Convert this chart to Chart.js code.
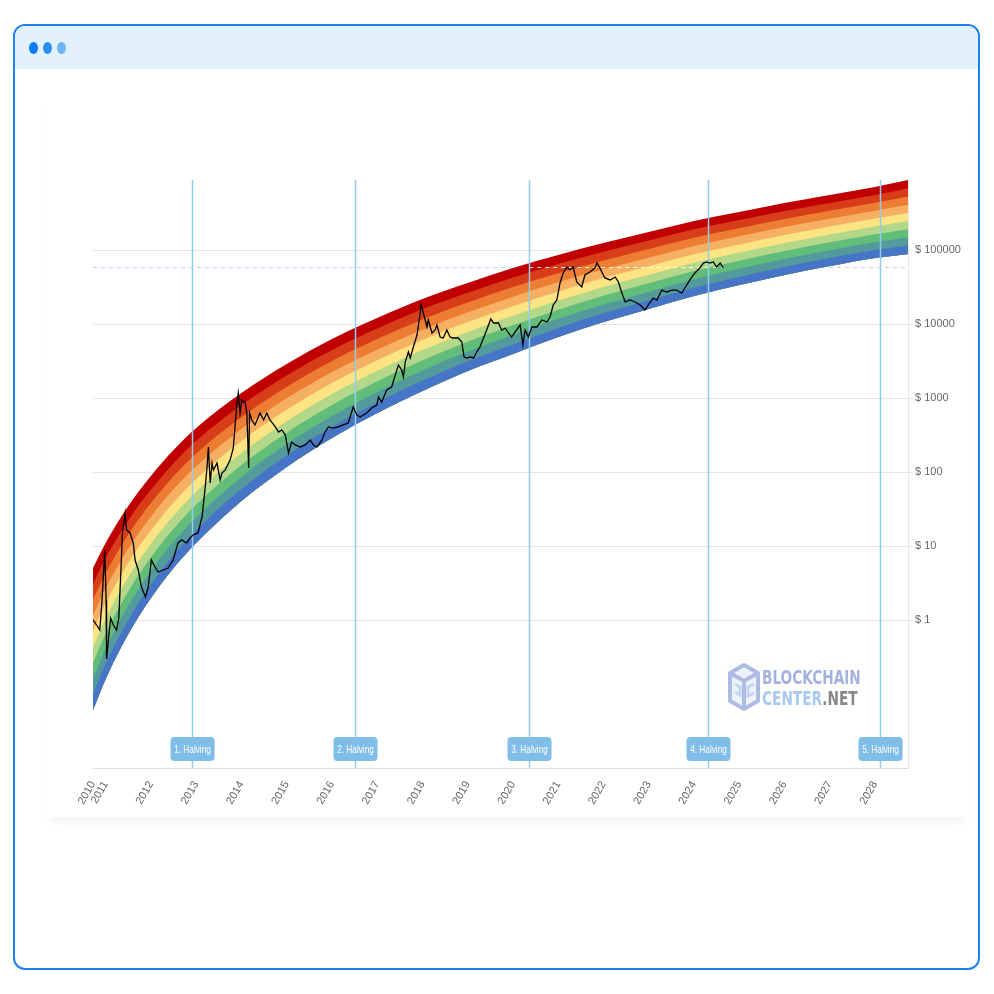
<!DOCTYPE html>
<html lang="en">
<head>
  <meta charset="UTF-8" />
  <title>Bitcoin Rainbow Price Chart</title>
  <script src="https://cdn.jsdelivr.net/npm/chart.js"></script>
  <style>
    html, body { margin: 0; padding: 0; background: #fff; }
    body {
      width: 994px; height: 994px; position: relative; overflow: hidden;
      font-family: 'Liberation Sans', Arial, sans-serif;
    }
    .frame {
      position: absolute; left: 13px; top: 24px;
      width: 963px; height: 942px;
      border: 2px solid #1a82f2; border-radius: 12px;
      overflow: hidden; background: #fff;
    }
    .bar { height: 43px; background: #e3f1fd; position: relative; }
    .dot { position: absolute; top: 16px; width: 9px; height: 12px; border-radius: 50%; }
    .card {
      position: absolute; left: 45px; top: 80px; width: 925px; height: 737px;
      background: #fff; box-shadow: 0 9px 9px -5px rgba(0, 0, 0, 0.05);
    }
    .chart-box { position: absolute; left: 73px; top: 160px; width: 890px; height: 650px; }
    .wm { position: absolute; left: 727px; top: 662px; }
    .wm svg { position: absolute; left: 0; top: 0; }
    .wm-text {
      position: absolute; left: 35px; top: 5px; white-space: nowrap;
      font-family: 'Liberation Sans Narrow', 'DejaVu Sans Condensed', sans-serif;
      font-weight: bold; font-size: 20px; line-height: 21px;
      transform: scaleX(0.76); transform-origin: 0 0;
    }
    .l1 { color: #a3b3de; }
    .l2 { color: #a9c9ef; }
    .l2 .net { color: #888; }
  </style>
</head>
<body>
  <div class="frame">
    <div class="bar">
      <div class="dot" style="left:14px;background:#0a7cf7"></div>
      <div class="dot" style="left:28px;background:#2a8ef7"></div>
      <div class="dot" style="left:42px;background:#6db2f5"></div>
    </div>
  </div>
  <div class="card"></div>
  <div class="chart-box"><canvas id="rainbowChart"></canvas></div>
  <div class="wm">
    <svg width="34" height="50" viewBox="0 0 34 50">
      <polygon points="17,3 31,11 31,39 17,47 3,39 3,11" fill="#eef2fa" stroke="#aebbe2" stroke-width="4" stroke-linejoin="round"/>
      <polyline points="3,11 17,19 31,11" fill="none" stroke="#aebbe2" stroke-width="4"/>
      <line x1="17" y1="19" x2="17" y2="47" stroke="#aebbe2" stroke-width="4"/>
      <polyline points="8,22 13,25 13,33 8,30" fill="none" stroke="#c3d5f1" stroke-width="3"/>
      <polyline points="27,22 21,25 21,34 27,31" fill="none" stroke="#c3d5f1" stroke-width="3"/>
    </svg>
    <div class="wm-text">
      <div class="l1">BLOCKCHAIN</div>
      <div class="l2"><span>CENTER</span><span class="net">.NET</span></div>
    </div>
  </div>

  <script>
    // axis range (decimal years) and ticks
    const xMin = 2010.72;
    const xMax = 2028.73;
    const xTickValues = [2010.72, 2011, 2012, 2013, 2014, 2015, 2016, 2017, 2018, 2019,
      2020, 2021, 2022, 2023, 2024, 2025, 2026, 2027, 2028];
    const xTickLabels = ['2010', '2011', '2012', '2013', '2014', '2015', '2016', '2017', '2018', '2019',
      '2020', '2021', '2022', '2023', '2024', '2025', '2026', '2027', '2028'];
    const yMin = 0.01;
    const yMax = 883000;
    const yTickValues = [1, 10, 100, 1000, 10000, 100000];

    // rainbow: lower and upper edge of the whole band
    const bandYears = [2010.72, 2011, 2011.5, 2012, 2012.5, 2013, 2014, 2015, 2016, 2017, 2018,
      2019, 2020, 2021, 2022, 2023, 2024, 2025, 2026, 2027, 2028, 2028.73];
    const rainbowBottom = [0.0608, 0.16, 0.647, 1.98, 5.04, 11.0, 40.6, 117, 288, 627, 1243,
      2317, 3932, 6672, 10640, 15950, 23900, 33650, 45940, 60780, 77990, 88300];
    const rainbowTop = [5.04, 11.0, 34.7, 88.3, 198, 393, 1168, 2880, 6270, 12050, 21770,
      35820, 57120, 85600, 124300, 175100, 246600, 326200, 431600, 553500, 710200, 883000];
    const bandColors = ['#4674c6', '#539a9d', '#62bd7a', '#b4d88a', '#fde482',
      '#f6b064', '#ed7d33', '#d73d19', '#c00000'];

    // BTC price
    const priceDates = [2010.72, 2010.80, 2010.87, 2010.92, 2010.98, 2011.01, 2011.02, 2011.06, 2011.11, 2011.17,
      2011.24, 2011.29, 2011.34, 2011.37, 2011.43, 2011.46, 2011.54, 2011.61, 2011.65, 2011.72,
      2011.79, 2011.88, 2011.94, 2012.01, 2012.09, 2012.16, 2012.27, 2012.38, 2012.49, 2012.60,
      2012.68, 2012.79, 2012.86, 2012.93, 2013.04, 2013.13, 2013.20, 2013.24, 2013.27, 2013.31,
      2013.35, 2013.38, 2013.46, 2013.53, 2013.57, 2013.64, 2013.75, 2013.82, 2013.90, 2013.93,
      2013.97, 2014.01, 2014.08, 2014.12, 2014.16, 2014.18, 2014.23, 2014.30, 2014.41, 2014.49,
      2014.56, 2014.63, 2014.75, 2014.82, 2014.89, 2014.97, 2015.04, 2015.11, 2015.19, 2015.30,
      2015.41, 2015.52, 2015.59, 2015.67, 2015.78, 2015.85, 2015.92, 2016.03, 2016.14, 2016.25,
      2016.36, 2016.47, 2016.55, 2016.62, 2016.77, 2016.88, 2016.99, 2017.03, 2017.10, 2017.21,
      2017.32, 2017.40, 2017.47, 2017.54, 2017.58, 2017.62, 2017.69, 2017.73, 2017.80, 2017.88,
      2017.95, 2017.97, 2018.02, 2018.10, 2018.13, 2018.21, 2018.28, 2018.32, 2018.39, 2018.46,
      2018.54, 2018.61, 2018.68, 2018.79, 2018.87, 2018.92, 2018.98, 2019.05, 2019.13, 2019.20,
      2019.27, 2019.35, 2019.42, 2019.51, 2019.57, 2019.68, 2019.75, 2019.83, 2019.90, 2019.97,
      2020.05, 2020.16, 2020.22, 2020.27, 2020.34, 2020.42, 2020.53, 2020.64, 2020.75, 2020.82,
      2020.89, 2020.97, 2021.04, 2021.11, 2021.19, 2021.26, 2021.33, 2021.41, 2021.52, 2021.59,
      2021.70, 2021.81, 2021.86, 2021.92, 2022.03, 2022.15, 2022.26, 2022.33, 2022.40, 2022.48,
      2022.59, 2022.70, 2022.81, 2022.92, 2022.99, 2023.10, 2023.18, 2023.29, 2023.40, 2023.51,
      2023.62, 2023.73, 2023.80, 2023.91, 2024.02, 2024.13, 2024.21, 2024.28, 2024.35, 2024.43,
      2024.50, 2024.58, 2024.65];
    const priceValues = [1.0, 0.856, 0.732, 1.86, 8.83, 1.86, 0.297, 0.537, 1.06, 0.856,
      0.732, 1.06, 5.2, 15.0, 27.9, 16.5, 15.0, 11.0, 6.47, 4.74,
      2.79, 2.05, 2.79, 6.47, 5.2, 4.45, 4.74, 5.04, 6.47, 11.0,
      12.1, 11.0, 12.8, 14.1, 15.0, 24.7, 62.7, 117, 218, 71,
      132, 106, 132, 78, 96.9, 106, 145, 211, 856, 1169,
      627, 940, 883, 627, 113, 627, 504, 432, 627, 504,
      627, 504, 406, 347, 370, 316, 181, 254, 232, 218,
      232, 271, 232, 218, 271, 347, 406, 393, 406, 432,
      459, 756, 589, 554, 627, 733, 804, 1032, 883, 1283,
      1409, 2047, 2792, 2390, 1923, 3065, 4188, 3472, 4890, 7100,
      14090, 18070, 14090, 9110, 11330, 7560, 8300, 9690, 6670, 6470,
      8300, 6670, 6470, 6470, 5710, 3580, 3472, 3580, 3472, 4188,
      4890, 6470, 8300, 11690, 10320, 10320, 8300, 8830, 7560, 6670,
      7800, 9690, 5200, 8300, 6670, 9110, 9110, 11330, 10640, 12440,
      18070, 21100, 35820, 48900, 58900, 53700, 58900, 36980, 31620, 45940,
      50470, 57120, 66700, 57120, 41870, 39340, 43150, 36980, 27050, 19830,
      21100, 19830, 18070, 15460, 18070, 22450, 21100, 28780, 27050, 28780,
      28780, 26240, 30640, 39340, 48900, 57120, 66700, 68870, 66700, 68870,
      58900, 66700, 57120];
    const currentPrice = 59400;

    const halvingDates = [2012.91, 2016.52, 2020.36, 2024.30, 2028.12];
    const halvingLabels = ['1. Halving', '2. Halving', '3. Halving', '4. Halving', '5. Halving'];

    Chart.defaults.font.family = "'Liberation Sans', Arial, sans-serif";

    // band edges: the band is split evenly on the log scale
    const bandEdges = [];
    for (let k = 0; k <= bandColors.length; k++) {
      const f = k / bandColors.length;
      bandEdges.push(bandYears.map((yr, i) => ({
        x: yr,
        y: Math.pow(10, Math.log10(rainbowBottom[i]) * (1 - f) + Math.log10(rainbowTop[i]) * f)
      })));
    }

    const datasets = [{
      label: 'BTC',
      data: priceDates.map((d, i) => ({ x: d, y: priceValues[i] })),
      borderColor: '#000',
      borderWidth: 1.3,
      pointRadius: 0,
      fill: false
    }];
    bandEdges.forEach((edge, k) => {
      datasets.push({
        label: 'edge' + k,
        data: edge,
        borderWidth: 0,
        borderColor: 'rgba(0,0,0,0)',
        pointRadius: 0,
        cubicInterpolationMode: 'monotone',
        backgroundColor: k === 0 ? 'rgba(0,0,0,0)' : bandColors[k - 1],
        fill: k === 0 ? false : 1
      });
    });

    const overlays = {
      id: 'overlays',
      beforeDatasetsDraw(chart) {
        const { ctx, chartArea: a, scales: { y } } = chart;
        const py = Math.round(y.getPixelForValue(currentPrice)) + 0.5;
        ctx.save();
        ctx.setLineDash([4, 4]);
        ctx.strokeStyle = '#bcd3f5';
        ctx.lineWidth = 1;
        ctx.beginPath();
        ctx.moveTo(a.left, py);
        ctx.lineTo(a.right, py);
        ctx.stroke();
        ctx.restore();
      },
      afterDatasetDraw(chart, args) {
        if (args.index !== 1) return;
        const { ctx, chartArea: a, scales: { x, y } } = chart;
        ctx.save();
        // dashed price level over the rainbow
        const py = Math.round(y.getPixelForValue(currentPrice)) + 0.5;
        ctx.setLineDash([4, 4]);
        ctx.strokeStyle = 'rgba(255,255,255,0.9)';
        ctx.lineWidth = 1;
        ctx.beginPath();
        ctx.moveTo(x.getPixelForValue(halvingDates[2]), py);
        ctx.lineTo(x.getPixelForValue(priceDates[priceDates.length - 1]), py);
        ctx.stroke();
        ctx.setLineDash([]);
        // halving lines and labels
        halvingDates.forEach((d, i) => {
          const px = Math.round(x.getPixelForValue(d)) + 0.5;
          ctx.strokeStyle = '#93caef';
          ctx.lineWidth = 1.5;
          ctx.beginPath();
          ctx.moveTo(px, a.top);
          ctx.lineTo(px, a.bottom);
          ctx.stroke();
          const w = 44, h = 24, bx = px - w / 2, by = a.bottom - 31;
          ctx.fillStyle = '#80bde9';
          ctx.beginPath();
          ctx.roundRect(bx, by, w, h, 4);
          ctx.fill();
          ctx.save();
          ctx.translate(px, by + h / 2 + 0.5);
          ctx.scale(0.75, 1);
          ctx.fillStyle = '#fff';
          ctx.font = "11px 'Liberation Sans', Arial, sans-serif";
          ctx.textAlign = 'center';
          ctx.textBaseline = 'middle';
          ctx.fillText(halvingLabels[i], 0, 0);
          ctx.restore();
        });
        ctx.restore();
      }
    };

    new Chart(document.getElementById('rainbowChart'), {
      type: 'line',
      data: { datasets: datasets },
      options: {
        responsive: true,
        maintainAspectRatio: false,
        animation: false,
        layout: { padding: { left: 20, top: 20, right: 0, bottom: 0 } },
        plugins: { legend: { display: false }, tooltip: { enabled: false } },
        elements: { line: { tension: 0 } },
        scales: {
          x: {
            type: 'linear',
            min: xMin,
            max: xMax,
            afterBuildTicks: s => { s.ticks = xTickValues.map(v => ({ value: v })); },
            afterFit: s => { s.height = 42; },
            grid: { display: false, drawTicks: true, tickLength: 8 },
            border: { display: true, color: '#dcdcdc' },
            ticks: {
              autoSkip: false,
              minRotation: 60,
              maxRotation: 60,
              color: '#666',
              font: { size: 11 },
              callback: (v, i) => xTickLabels[i]
            }
          },
          y: {
            type: 'logarithmic',
            position: 'right',
            min: yMin,
            max: yMax,
            afterBuildTicks: s => { s.ticks = yTickValues.map(v => ({ value: v })); },
            afterFit: s => { s.width = 55; },
            grid: { color: '#e6e6e6', tickLength: 5 },
            border: { display: true, color: '#e6e6e6' },
            ticks: {
              color: '#666',
              font: { size: 11 },
              padding: 2,
              callback: v => '$ ' + v
            }
          }
        }
      },
      plugins: [overlays]
    });
  </script>
</body>
</html>
